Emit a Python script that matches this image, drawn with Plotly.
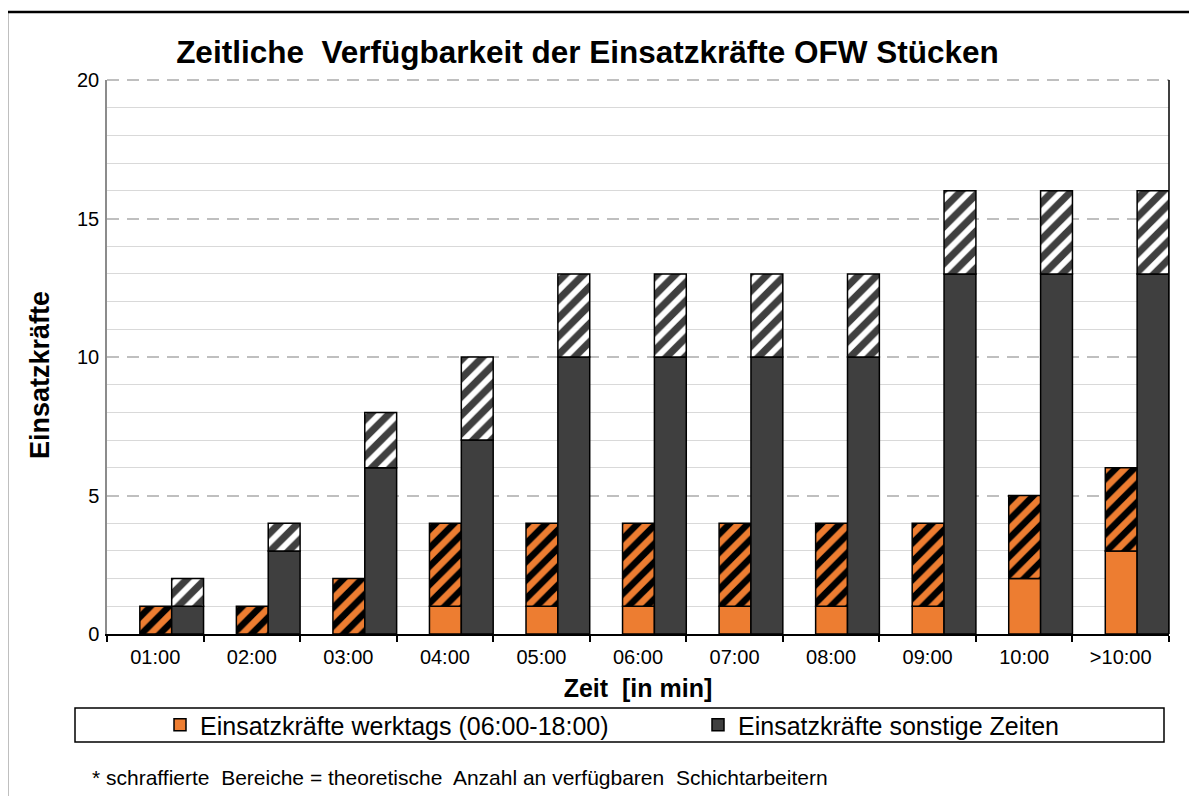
import plotly.graph_objects as go

categories = ["01:00", "02:00", "03:00", "04:00", "05:00", "06:00", "07:00", "08:00", "09:00", "10:00", ">10:00"]
werktags_solid = [0, 0, 0, 1, 1, 1, 1, 1, 1, 2, 3]
werktags_total = [1, 1, 2, 4, 4, 4, 4, 4, 4, 5, 6]
sonstige_solid = [1, 3, 6, 7, 10, 10, 10, 10, 13, 13, 13]
sonstige_total = [2, 4, 8, 10, 13, 13, 13, 13, 16, 16, 16]

ORANGE = "#ED7D31"
DARK = "#3F3F3F"
FONT = "Liberation Sans, Arial, sans-serif"

OFF = 8  # page body margin
W, H = 1197 - OFF, 796 - OFF
# plot area in screen pixels
L, R, T, B = 107, 1169, 80, 634
PW, PH = R - L, B - T


def px(x):
    return (x - L) / PW


def py(y):
    return (B - y) / PH


w_hatch = [t - s for t, s in zip(werktags_total, werktags_solid)]
s_hatch = [t - s for t, s in zip(sonstige_total, sonstige_solid)]

line = dict(color="black", width=1.5)
fig = go.Figure()
fig.add_trace(go.Bar(x=categories, y=werktags_solid, name="Einsatzkräfte werktags (06:00-18:00)",
                     marker=dict(color=ORANGE, line=line), offset=-0.16, width=0.33,
                     legend="legend"))
fig.add_trace(go.Bar(x=categories, y=w_hatch, base=werktags_solid, showlegend=False,
                     name="werktags (Schicht)",
                     marker=dict(color=ORANGE, line=line,
                                 pattern=dict(shape="/", bgcolor=ORANGE, fgcolor="black",
                                              size=13, solidity=0.5, fillmode="replace")),
                     offset=-0.16, width=0.33))
fig.add_trace(go.Bar(x=categories, y=sonstige_solid, name="Einsatzkräfte sonstige Zeiten",
                     marker=dict(color=DARK, line=line), offset=0.17, width=0.33,
                     legend="legend2"))
fig.add_trace(go.Bar(x=categories, y=s_hatch, base=sonstige_solid, showlegend=False,
                     name="sonstige (Schicht)",
                     marker=dict(color=DARK, line=line,
                                 pattern=dict(shape="/", bgcolor=DARK, fgcolor="white",
                                              size=13, solidity=0.45, fillmode="replace")),
                     offset=0.17, width=0.33))

legend_common = dict(orientation="h", yanchor="middle", y=py(725), xanchor="left",
                     font=dict(family=FONT, size=25, color="black"),
                     bgcolor="rgba(0,0,0,0)", borderwidth=0)

fig.update_layout(
    width=W, height=H,
    margin=dict(l=L - OFF, r=W + OFF - R, t=T - OFF, b=H + OFF - B, autoexpand=False),
    paper_bgcolor="white", plot_bgcolor="white",
    barmode="overlay",
    font=dict(family=FONT, color="black", size=20),
    title=dict(text="Zeitliche  Verfügbarkeit der Einsatzkräfte OFW Stücken",
               x=(587.5 - OFF) / W, xanchor="center", xref="container",
               y=1 - (52 - OFF) / H, yanchor="middle", yref="container",
               font=dict(family=FONT, size=31.5, weight=700, color="black")),
    showlegend=True,
    legend=dict(x=px(160), **legend_common),
    legend2=dict(x=px(698), **legend_common),
    xaxis=dict(type="category", categoryorder="array", categoryarray=categories,
               showline=True, linecolor="black", linewidth=2,
               ticks="outside", tickson="boundaries", ticklen=6, tickcolor="black", tickwidth=1.5,
               showgrid=False, tickfont=dict(size=20), ticklabelstandoff=4,
               title=dict(text="Zeit  [in min]", font=dict(size=25, weight=700), standoff=12),
               range=[-0.5, len(categories) - 0.5]),
    yaxis=dict(range=[0, 20], dtick=5, tick0=0, showline=True, linecolor="#8c8c8c", linewidth=1.5,
               ticks="", tickfont=dict(size=20), ticklabelstandoff=2,
               showgrid=True, gridcolor="#bfbfbf", gridwidth=2, griddash="12px,8px",
               minor=dict(dtick=1, showgrid=True, gridcolor="#d9d9d9", gridwidth=1, griddash="solid"),
               zeroline=False),
)

shapes = [
    # dashed top gridline at 20
    dict(type="line", xref="paper", yref="paper", x0=0, x1=1, y0=1, y1=1,
         line=dict(color="#bfbfbf", width=2, dash="12px,8px"), layer="below"),
    # right border of plot area
    dict(type="line", xref="paper", yref="paper", x0=1, x1=1, y0=0, y1=1,
         line=dict(color="black", width=1.5)),
    # legend box
    dict(type="rect", xref="paper", yref="paper", x0=px(75), x1=px(1164), y0=py(742), y1=py(708),
         line=dict(color="black", width=1.5), fillcolor="rgba(0,0,0,0)", layer="below"),
    # outer chart frame
    dict(type="rect", xref="paper", yref="paper", x0=px(7), x1=px(1215), y0=py(815), y1=py(12),
         line=dict(color="black", width=2.5), fillcolor="rgba(0,0,0,0)", layer="below"),
]
fig.update_layout(shapes=shapes)

fig.add_annotation(text="Einsatzkräfte", xref="paper", yref="paper", x=px(40), y=py(375),
                   showarrow=False, textangle=-90, font=dict(size=27, weight=700),
                   xanchor="center", yanchor="middle")
fig.add_annotation(text="* schraffierte  Bereiche = theoretische  Anzahl an verfügbaren  Schichtarbeitern",
                   xref="paper", yref="paper", x=px(90), y=py(777), showarrow=False,
                   xanchor="left", yanchor="middle", font=dict(size=21))

fig.write_html("out.html")
